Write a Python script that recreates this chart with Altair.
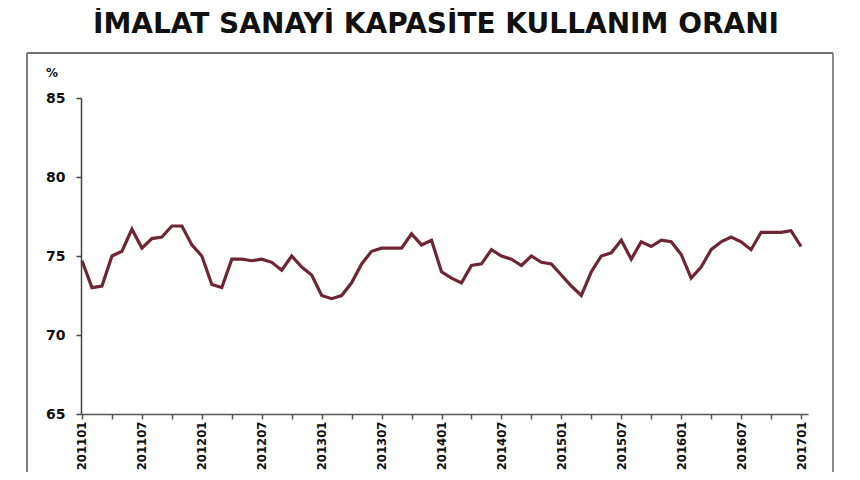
import altair as alt
import pandas as pd
import json

title_text = "İMALAT SANAYİ KAPASİTE KULLANIM ORANI"
unit_text = "%"

# monthly capacity utilisation, 2011-01 .. 2017-01
values = [
    74.7, 73.0, 73.1, 75.0, 75.3, 76.7, 75.5, 76.1, 76.2, 76.9, 76.9, 75.7,
    75.0, 73.2, 73.0, 74.8, 74.8, 74.7, 74.8, 74.6, 74.1, 75.0, 74.3, 73.8,
    72.5, 72.3, 72.5, 73.3, 74.5, 75.3, 75.5, 75.5, 75.5, 76.4, 75.7, 76.0,
    74.0, 73.6, 73.3, 74.4, 74.5, 75.4, 75.0, 74.8, 74.4, 75.0, 74.6, 74.5,
    73.8, 73.1, 72.5, 74.0, 75.0, 75.2, 76.0, 74.8, 75.9, 75.6, 76.0, 75.9,
    75.1, 73.6, 74.3, 75.4, 75.9, 76.2, 75.9, 75.4, 76.5, 76.5, 76.5, 76.6,
    75.6,
]
tick_labels = ["201101", "201107", "201201", "201207", "201301", "201307",
               "201401", "201407", "201501", "201507", "201601", "201607",
               "201701"]
y_ticks = [65, 70, 75, 80, 85]

df = pd.DataFrame({"i": list(range(len(values))), "v": values})

label_expr = ("datum.value % 6 == 0 ? " + json.dumps(tick_labels)
              + "[datum.value / 6] : ''")

FONT = "DejaVu Sans"
FONT_C = "DejaVu Sans Condensed"

line = alt.Chart(df).mark_line(color="#6e2634", strokeWidth=3.2).encode(
    x=alt.X("i:Q",
            scale=alt.Scale(domain=[-0.1, 72.7], nice=False, zero=False),
            axis=alt.Axis(title="", values=list(range(0, 73, 3)),
                          labelExpr=label_expr, labelAngle=270,
                          labelFont=FONT_C, labelFontWeight="bold",
                          labelFontSize=13, labelColor="#111",
                          labelPadding=2, labelOverlap=False, labelBound=False,
                          tickSize=5, tickColor="#555", tickWidth=1.5,
                          domainColor="#555", domainWidth=1.5, grid=False)),
    y=alt.Y("v:Q",
            scale=alt.Scale(domain=[65, 85], nice=False, zero=False),
            axis=alt.Axis(title="", values=y_ticks, labelFont=FONT,
                          labelFontWeight="bold", labelFontSize=14,
                          labelColor="#111", labelPadding=11,
                          tickSize=5, tickColor="#444", tickWidth=1.5,
                          domainColor="#444", domainWidth=1.5, grid=False)),
)

txt_df = pd.DataFrame({"t": [title_text]})
title = alt.Chart(txt_df).mark_text(
    font=FONT, fontSize=28, fontWeight="bold", color="#111",
    align="center", baseline="alphabetic"
).encode(text="t:N", x=alt.value(355), y=alt.value(-65))

unit_df = pd.DataFrame({"t": [unit_text]})
unit = alt.Chart(unit_df).mark_text(
    font=FONT, fontSize=12, fontWeight="bold", color="#111",
    align="center", baseline="alphabetic"
).encode(text="t:N", x=alt.value(-29), y=alt.value(-21))

frame_df = pd.DataFrame({"k": [0]})
frame_top = alt.Chart(frame_df).mark_rule(color="#6f6f6f", strokeWidth=2).encode(
    x=alt.value(-54), x2=alt.value(752), y=alt.value(-45))
frame_left = alt.Chart(frame_df).mark_rule(color="#7f7f7f", strokeWidth=2).encode(
    x=alt.value(-54), y=alt.value(-45), y2=alt.value(420))
frame_right = alt.Chart(frame_df).mark_rule(color="#8a8a8a", strokeWidth=2).encode(
    x=alt.value(752), y=alt.value(-45), y2=alt.value(420))

chart = alt.layer(frame_top, frame_left, frame_right, line, title, unit).properties(
    width=727, height=316,
    autosize=alt.AutoSizeParams(type="none"),
    padding={"left": 73, "top": 90, "right": 44, "bottom": 58},
    background="white",
).configure_view(strokeWidth=0)

chart.save("out.html", embed_options={"renderer": "svg", "actions": False})
